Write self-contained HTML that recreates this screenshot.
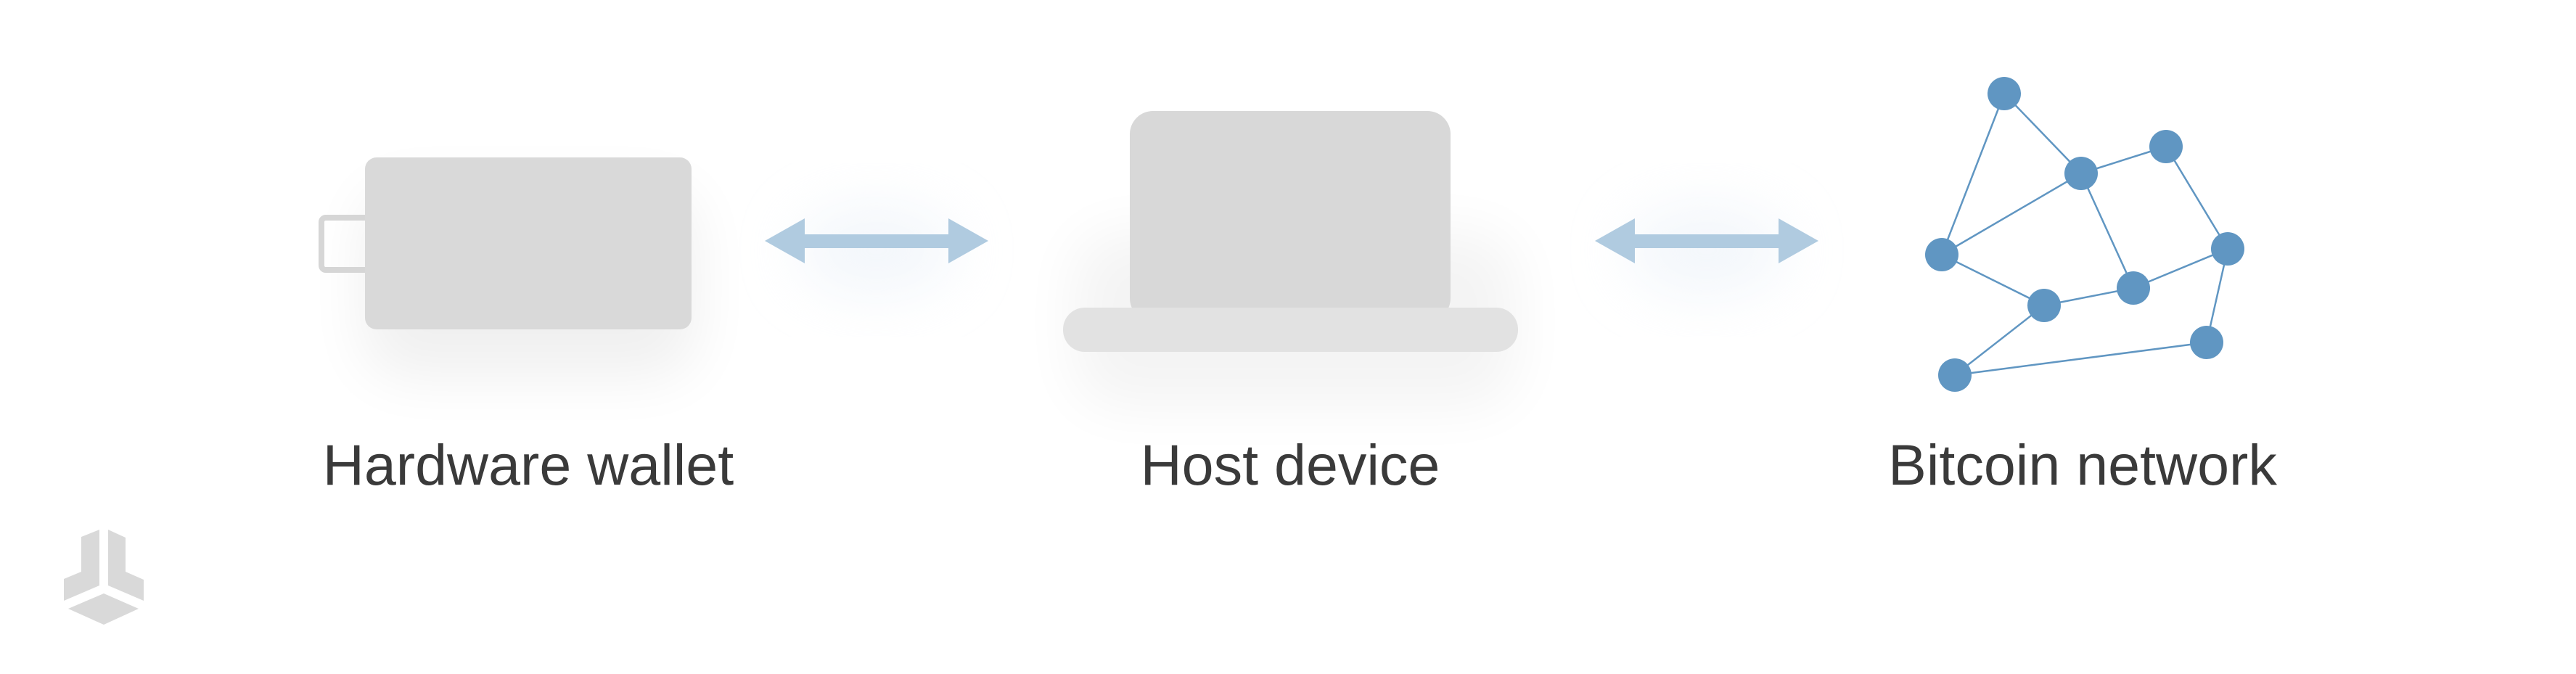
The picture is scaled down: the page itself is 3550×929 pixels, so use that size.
<!DOCTYPE html>
<html><head><meta charset="utf-8"><style>
html,body{margin:0;padding:0;background:#fff;width:3550px;height:929px;overflow:hidden}
</style></head><body>
<svg width="3550" height="929" viewBox="0 0 3550 929" xmlns="http://www.w3.org/2000/svg">
<defs>
<filter id="sh" x="-50%" y="-50%" width="200%" height="200%"><feGaussianBlur stdDeviation="40"/></filter>
</defs>
<rect x="500" y="260" width="460" height="260" rx="60" fill="#000" opacity="0.06" filter="url(#sh)"/>
<rect x="1480" y="320" width="610" height="240" rx="60" fill="#000" opacity="0.045" filter="url(#sh)"/>
<ellipse cx="1208" cy="345" rx="110" ry="60" fill="#e6eef7" opacity="0.5" filter="url(#sh)"/>
<ellipse cx="2352" cy="345" rx="110" ry="60" fill="#e6eef7" opacity="0.5" filter="url(#sh)"/>
<rect x="443" y="300" width="80" height="72" rx="6" fill="none" stroke="#d6d6d6" stroke-width="8"/>
<rect x="503" y="217" width="450" height="237" rx="16" fill="#d9d9d9"/>
<polygon points="1054,332 1109,301 1109,323 1307,323 1307,301 1362,332 1307,363 1307,342 1109,342 1109,363" fill="#b0cbe0"/>
<rect x="1557" y="153" width="442" height="290" rx="32" fill="#d8d8d8"/>
<rect x="1465" y="424" width="627" height="61" rx="30" fill="#e2e2e2"/>
<polygon points="2198,332 2253,301 2253,323 2451,323 2451,301 2506,332 2451,363 2451,342 2253,342 2253,363" fill="#b0cbe0"/>
<g transform="translate(-8,0)">
<g stroke="#6096c2" stroke-width="2.5">
<line x1="2770" y1="129" x2="2876" y2="239"/>
<line x1="2770" y1="129" x2="2684" y2="351"/>
<line x1="2876" y1="239" x2="2993" y2="202"/>
<line x1="2876" y1="239" x2="2684" y2="351"/>
<line x1="2876" y1="239" x2="2948" y2="397"/>
<line x1="2993" y1="202" x2="3078" y2="343"/>
<line x1="3078" y1="343" x2="2948" y2="397"/>
<line x1="3078" y1="343" x2="3049" y2="472"/>
<line x1="2684" y1="351" x2="2825" y2="421"/>
<line x1="2825" y1="421" x2="2948" y2="397"/>
<line x1="2825" y1="421" x2="2702" y2="517"/>
<line x1="2702" y1="517" x2="3049" y2="472"/>
</g>
<g fill="#6096c2">
<circle cx="2770" cy="129" r="23"/><circle cx="2876" cy="239" r="23"/><circle cx="2993" cy="202" r="23"/>
<circle cx="2684" cy="351" r="23"/><circle cx="3078" cy="343" r="23"/><circle cx="2825" cy="421" r="23"/>
<circle cx="2948" cy="397" r="23"/><circle cx="2702" cy="517" r="23"/><circle cx="3049" cy="472" r="23"/>
</g>
</g>
<g font-family="Liberation Sans, sans-serif" font-size="79" fill="#3a3a3a" text-anchor="middle">
<text x="728" y="668">Hardware wallet</text>
<text x="1778" y="668">Host device</text>
<text x="2870" y="668">Bitcoin network</text>
</g>
<g fill="#d9d9d9">
<polygon points="112,740 137,730 137,807 88,828 88,798 112,788"/>
<polygon points="149,730 173,741 173,788 198,799 198,828 149,807"/>
<polygon points="94,839 143,818 191,839 143,861"/>
</g>
</svg>
</body></html>
